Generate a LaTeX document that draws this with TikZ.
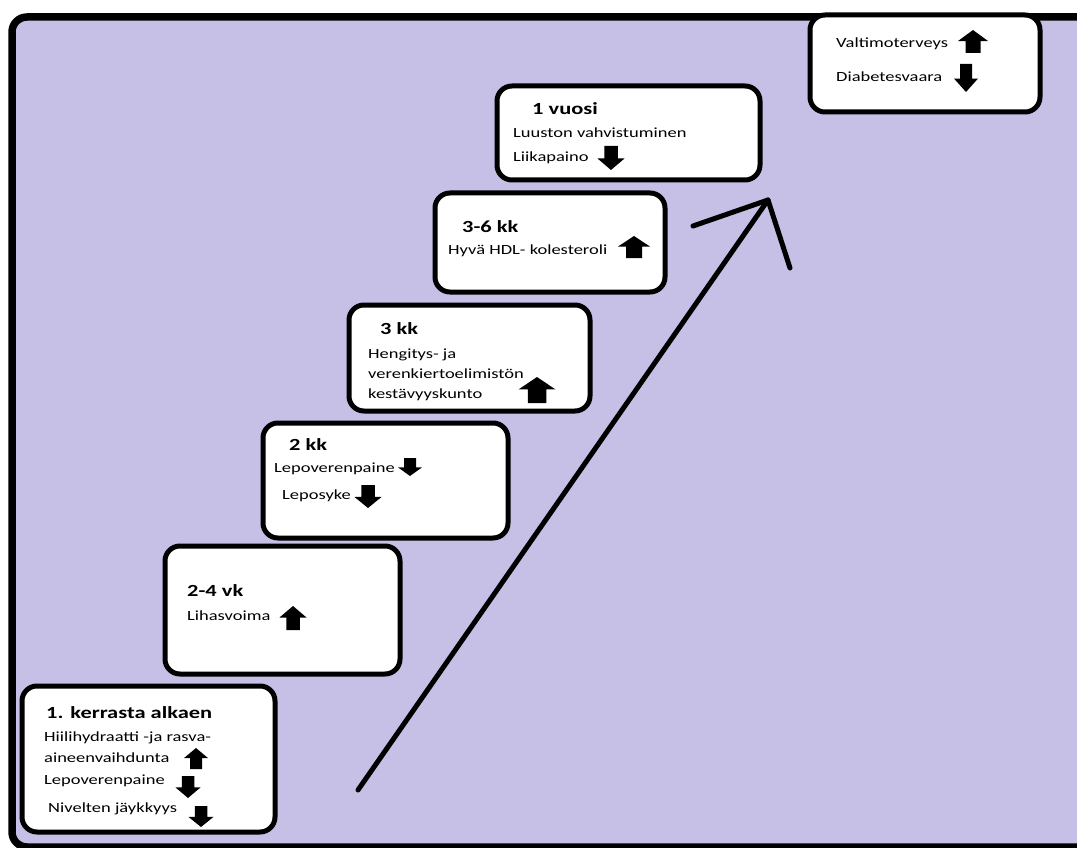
\documentclass[tikz,border=0pt]{standalone}
\usepackage{fontspec}
\setmainfont[FakeStretch=1.32]{Carlito}
\definecolor{bgpurple}{RGB}{198,191,230}
\tikzset{
  stepbox/.style={draw=black, line width=5pt, fill=white, rounded corners=15pt},
  head/.style={anchor=west, inner sep=0pt, font=\fontsize{17}{19}\selectfont\bfseries, text height=0.7em, text depth=0.2em},
  body/.style={anchor=west, inner sep=0pt, font=\fontsize{14}{16}\selectfont, text height=0.7em, text depth=0.2em},
  bigarrow/.style={line width=5pt, line cap=round, line join=round},
}
% block arrows: center x, top y, width, height
\newcommand\UpArr[4]{\fill[black] (#1,#2) -- ({#1+#3/2},{#2+0.48*#4}) -- ({#1+#3/4},{#2+0.48*#4}) -- ({#1+#3/4},{#2+#4}) -- ({#1-#3/4},{#2+#4}) -- ({#1-#3/4},{#2+0.48*#4}) -- ({#1-#3/2},{#2+0.48*#4}) -- cycle;}
\newcommand\DnArr[4]{\fill[black] (#1,{#2+#4}) -- ({#1+#3/2},{#2+0.52*#4}) -- ({#1+#3/4},{#2+0.52*#4}) -- ({#1+#3/4},#2) -- ({#1-#3/4},#2) -- ({#1-#3/4},{#2+0.52*#4}) -- ({#1-#3/2},{#2+0.52*#4}) -- cycle;}
\begin{document}
\begin{tikzpicture}[x=1pt,y=-1pt]
\useasboundingbox (0,0) rectangle (1077,848);
\clip (0,0) rectangle (1077,848);
\fill[white] (0,0) rectangle (1077,848);
% outer frame
\draw[line width=7.5pt, fill=bgpurple, rounded corners=15pt] (12,17) rectangle (1110,847);

% boxes
\draw[stepbox] (22,686) rectangle (275,832);
\draw[stepbox] (165,546) rectangle (400,674);
\draw[stepbox] (263,423) rectangle (508,538);
\draw[stepbox] (349,305) rectangle (590,411);
\draw[stepbox] (435,193) rectangle (665,292);
\draw[stepbox] (497,86) rectangle (760,180);
\draw[stepbox] (810,15) rectangle (1040,112);

% big arrow
\coordinate (as) at (358,790);
\coordinate (at) at (768,200);
\coordinate (al) at (693,226);
\coordinate (ar) at (790,268);
\draw[bigarrow] (as) -- (at);
\draw[bigarrow] (al) -- (at) -- (ar);

% box 1
\node[head] (h1) at (46,716) {1. kerrasta alkaen};
\node[body] (t11) at (44,739) {Hiilihydraatti -ja rasva-};
\node[body] (t12) at (44,760) {aineenvaihdunta};
\UpArr{196}{748}{24}{21}
\node[body] (t13) at (44,782) {Lepoverenpaine};
\DnArr{188}{776}{25}{22}
\node[body] (t14) at (48,810) {Nivelten jäykkyys};
\DnArr{201}{806}{25}{21}

% box 2
\node[head] (h2) at (187,594) {2-4 vk};
\node[body] (t21) at (187,618) {Lihasvoima};
\UpArr{293}{606}{27}{24}

% box 3
\node[head] (h3) at (289,448) {2 kk};
\node[body] (t31) at (274,470) {Lepoverenpaine};
\DnArr{410}{458}{24}{18}
\node[body] (t32) at (282,497) {Leposyke};
\DnArr{368}{485}{27}{23}

% box 4
\node[head] (h4) at (380,332) {3 kk};
\node[body] (t41) at (368,356) {Hengitys- ja};
\node[body] (t42) at (368,376) {verenkiertoelimistön};
\node[body] (t43) at (368,396) {kestävyyskunto};
\UpArr{537}{377}{37}{26}

% box 5
\node[head] (h5) at (462,230) {3-6 kk};
\node[body] (t51) at (448,252) {Hyvä HDL- kolesteroli};
\UpArr{634}{236}{32}{22}

% box 6
\node[head] (h6) at (532,112) {1 vuosi};
\node[body] (t61) at (513,135) {Luuston vahvistuminen};
\node[body] (t62) at (513,159) {Liikapaino};
\DnArr{611}{146}{27}{24}

% box 7
\node[body] (t71) at (836,45) {Valtimoterveys};
\UpArr{973}{30}{30}{23}
\node[body] (t72) at (836,79) {Diabetesvaara};
\DnArr{966}{64}{24}{28}
\end{tikzpicture}
\end{document}
